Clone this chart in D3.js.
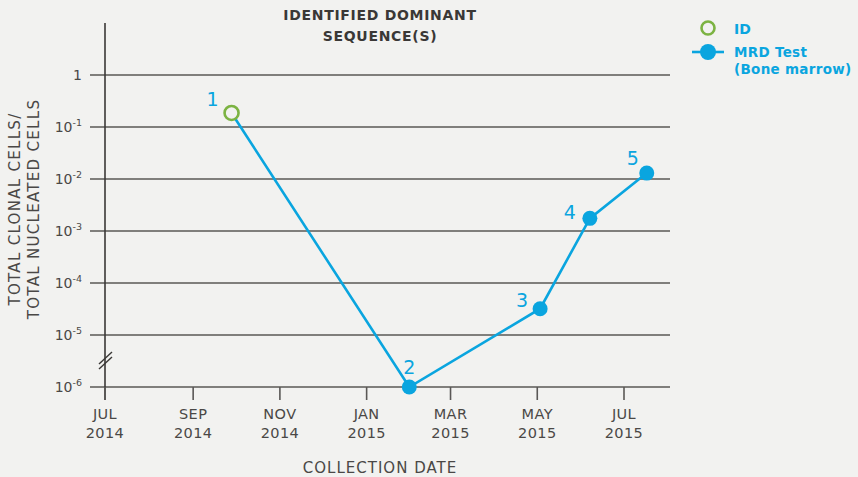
<!doctype html>
<html>
<head>
  <meta charset="utf-8">
  <title>Identified dominant sequence(s)</title>
  <style>
  body { margin: 0; background: #f2f2f0; }
  svg { display: block; font-family: 'DejaVu Sans', 'Noto Sans', sans-serif; }
  </style>
</head>
<body>
  <div id="vis"></div>
  <script src="https://d3js.org/d3.v7.min.js"></script>
  <script>
  // data
  var pointLabels = ['1', '2', '3', '4', '5'];
  var pointDates = ['2014-09-28', '2015-01-31', '2015-05-03', '2015-06-07', '2015-07-17'];
  var pointValues = [0.186, 1e-6, 3.2e-5, 1.75e-3, 1.3e-2];
  var pointKinds = ['ID', 'MRD', 'MRD', 'MRD', 'MRD'];
  var yTickValues = [1, 1e-1, 1e-2, 1e-3, 1e-4, 1e-5, 1e-6];
  var xTickDates = ['2014-07-01', '2014-09-01', '2014-11-01', '2015-01-01', '2015-03-01', '2015-05-01', '2015-07-01'];
  var xTickMonths = ['JUL', 'SEP', 'NOV', 'JAN', 'MAR', 'MAY', 'JUL'];
  var xTickYears = ['2014', '2014', '2014', '2015', '2015', '2015', '2015'];

  var width = 858, height = 477;
  var blue = '#0aa5df', green = '#7cb342', grid = '#5a5856', text = '#4a4846';

  var parse = d3.timeParse('%Y-%m-%d');
  var x = d3.scaleTime()
    .domain([parse('2014-07-01'), parse('2015-07-01')])
    .range([105, 624]);
  var y = d3.scaleLog()
    .domain([1e-6, 1])
    .range([387, 75]);

  var svg = d3.select('#vis').append('svg')
    .attr('width', width)
    .attr('height', height);

  svg.append('rect').attr('width', width).attr('height', height).attr('fill', '#f2f2f0');

  // horizontal gridlines
  svg.selectAll('.grid').data(yTickValues).enter().append('line')
    .attr('x1', 90).attr('x2', 670)
    .attr('y1', function(d){ return y(d); })
    .attr('y2', function(d){ return y(d); })
    .attr('stroke', grid).attr('stroke-width', 1.6);

  // y tick labels, 10 with superscript exponent
  var yl = svg.selectAll('.ylab').data(yTickValues).enter().append('text')
    .attr('x', 82)
    .attr('y', function(d){ return y(d) + 5; })
    .attr('text-anchor', 'end')
    .attr('fill', text)
    .style('font-size', '14px');
  yl.each(function(d){
    var t = d3.select(this);
    var p = Math.round(Math.log10(d));
    if (p === 0) { t.text('1'); return; }
    t.append('tspan').text('10');
    t.append('tspan').attr('dy', -6).style('font-size', '9.5px').text('-' + (-p));
  });

  // y axis line
  svg.append('line')
    .attr('x1', 105).attr('x2', 105).attr('y1', 23).attr('y2', 400)
    .attr('stroke', '#3a3836').attr('stroke-width', 1.6);

  // axis break
  [0, 5].forEach(function(off){
    svg.append('line')
      .attr('x1', 99).attr('y1', 364 + off)
      .attr('x2', 112).attr('y2', 352 + off)
      .attr('stroke', '#3a3836').attr('stroke-width', 1.4);
  });

  // x ticks
  var xDates = xTickDates.map(parse);
  svg.selectAll('.xtick').data(xDates).enter().append('line')
    .attr('x1', function(d){ return x(d); })
    .attr('x2', function(d){ return x(d); })
    .attr('y1', 387).attr('y2', 400)
    .attr('stroke', grid).attr('stroke-width', 1.6);
  var xl = svg.selectAll('.xlab').data(xDates).enter().append('text')
    .attr('text-anchor', 'middle')
    .attr('fill', text)
    .style('font-size', '14.5px')
    .style('letter-spacing', '0.4px');
  xl.append('tspan')
    .attr('x', function(d){ return x(d); }).attr('y', 419)
    .text(function(d, i){ return xTickMonths[i]; });
  xl.append('tspan')
    .attr('x', function(d){ return x(d); }).attr('y', 438)
    .text(function(d, i){ return xTickYears[i]; });

  // axis titles
  svg.append('text')
    .attr('x', 380).attr('y', 473)
    .attr('text-anchor', 'middle').attr('fill', text)
    .style('font-size', '15px').style('letter-spacing', '1px')
    .text('COLLECTION DATE');
  var yt = svg.append('text')
    .attr('transform', 'translate(0,209) rotate(-90)')
    .attr('text-anchor', 'middle').attr('fill', text)
    .style('font-size', '15px').style('letter-spacing', '1.3px');
  yt.append('tspan').attr('x', 0).attr('y', 20).text('TOTAL CLONAL CELLS/');
  yt.append('tspan').attr('x', 0).attr('y', 39).text('TOTAL NUCLEATED CELLS');

  // chart title
  var title = svg.append('text')
    .attr('text-anchor', 'middle').attr('fill', '#3a3836')
    .style('font-size', '14px').style('font-weight', 'bold')
    .style('letter-spacing', '0.7px');
  title.append('tspan').attr('x', 380).attr('y', 20).text('IDENTIFIED DOMINANT');
  title.append('tspan').attr('x', 380).attr('y', 41).text('SEQUENCE(S)');

  // series
  var points = pointLabels.map(function(l, i){
    return { label: l, date: parse(pointDates[i]), value: pointValues[i], kind: pointKinds[i] };
  });

  var line = d3.line()
    .x(function(d){ return x(d.date); })
    .y(function(d){ return y(d.value); });

  svg.append('path')
    .datum(points)
    .attr('d', line)
    .attr('fill', 'none')
    .attr('stroke', blue)
    .attr('stroke-width', 2.6);

  svg.selectAll('.pt').data(points).enter().append('circle')
    .attr('cx', function(d){ return x(d.date); })
    .attr('cy', function(d){ return y(d.value); })
    .attr('r', function(d){ return d.kind === 'ID' ? 7 : 7.5; })
    .attr('fill', function(d){ return d.kind === 'ID' ? '#f2f2f0' : blue; })
    .attr('stroke', function(d){ return d.kind === 'ID' ? green : 'none'; })
    .attr('stroke-width', 2.6);

  // point number labels (offsets are layout only)
  var labelOffsets = [[-19, -14], [0, -20], [-18, -9], [-20, -6], [-14, -15]];
  svg.selectAll('.plab').data(points).enter().append('text')
    .attr('x', function(d, i){ return x(d.date) + labelOffsets[i][0]; })
    .attr('y', function(d, i){ return y(d.value) + labelOffsets[i][1] + 7; })
    .attr('text-anchor', 'middle')
    .attr('fill', blue)
    .style('font-size', '19px')
    .text(function(d){ return d.label; });

  // legend
  var lg = svg.append('g');
  lg.append('circle').attr('cx', 708).attr('cy', 28).attr('r', 6.5)
    .attr('fill', 'none').attr('stroke', green).attr('stroke-width', 2.6);
  lg.append('text').attr('x', 734).attr('y', 34).attr('fill', blue)
    .style('font-size', '14px').style('font-weight', 'bold').text('ID');
  lg.append('line').attr('x1', 692).attr('x2', 724).attr('y1', 52).attr('y2', 52)
    .attr('stroke', blue).attr('stroke-width', 2.6);
  lg.append('circle').attr('cx', 708).attr('cy', 52).attr('r', 8).attr('fill', blue);
  var lt = lg.append('text').attr('fill', blue)
    .style('font-size', '13.5px').style('font-weight', 'bold')
    .style('letter-spacing', '0.3px');
  lt.append('tspan').attr('x', 734).attr('y', 57).text('MRD Test');
  lt.append('tspan').attr('x', 734).attr('y', 74).text('(Bone marrow)');
  </script>
</body>
</html>
